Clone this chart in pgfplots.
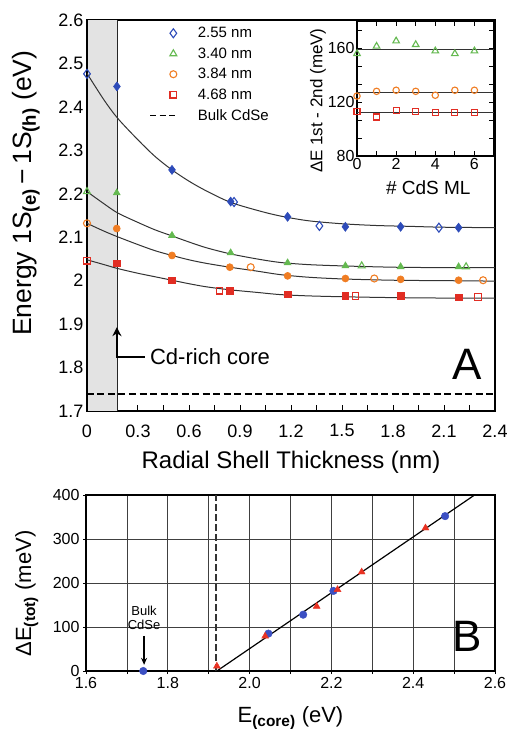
\documentclass[border=0pt]{standalone}
\usepackage{fontspec}
\setmainfont{Liberation Sans}
\usepackage{pgfplots}
\pgfplotsset{compat=1.18}
\usetikzlibrary{arrows.meta}

\definecolor{cblue}{RGB}{45,75,185}
\definecolor{cgreen}{RGB}{100,185,80}
\definecolor{corange}{RGB}{240,125,35}
\definecolor{cred}{RGB}{225,45,35}
\definecolor{bblue}{RGB}{60,80,195}
\definecolor{bred}{RGB}{232,50,35}

\pgfplotsset{
  openmk/.style={only marks, color=#1, mark options={fill=white, line width=1.1pt}},
  fillmk/.style={only marks, color=#1, mark options={line width=0.6pt}},
  fitline/.style={black!80, line width=1pt, smooth, no marks},
  markimg/.style={legend image code/.code={\path[draw=none, fill=none] (-0.82cm,0cm) rectangle (0.06cm,0.01cm); \draw[##1] plot coordinates {(0cm,0cm)};}},
  dashimg/.style={legend image code/.code={\draw[##1] (-0.82cm,0cm) -- (0.06cm,0cm);}},
}

\begin{document}
\begin{tikzpicture}
\path[use as bounding box] (0pt,0pt) rectangle (509pt,729pt);

% ---------- panel A ----------
\begin{axis}[
  at={(87pt,318pt)}, anchor=south west, scale only axis,
  width=408pt, height=391pt,
  xmin=0, xmax=2.4, ymin=1.7, ymax=2.6,
  axis line style={line width=1.2pt},
  tick align=inside, xtick pos=bottom, ytick pos=left,
  major tick length=6pt, minor tick length=6pt,
  every tick/.style={black, line width=1pt},
  xtick={0,0.3,0.6,0.9,1.2,1.5,1.8,2.1,2.4},
  xticklabels={0,0.3,0.6,0.9,1.2,1.5,1.8,2.1,2.4},
  minor xtick={0.15,0.45,0.75,1.05,1.35,1.65,1.95,2.25},
  ytick={1.7,1.8,1.9,2,2.1,2.2,2.3,2.4,2.5,2.6},
  yticklabels={1.7,1.8,1.9,2,2.1,2.2,2.3,2.4,2.5,2.6},
  ticklabel style={font=\fontsize{18}{18}\selectfont},
  xticklabel style={yshift=-10pt},
  xlabel={Radial Shell Thickness (nm)},
  xlabel style={font=\fontsize{24}{24}\selectfont, at={(axis description cs:0.5,-0.13)}, anchor=center},
  ylabel={Energy 1S\textsubscript{\bfseries(e)}\,−\,1S\textsubscript{\bfseries(h)} (eV)},
  ylabel style={font=\fontsize{26.5}{26.5}\selectfont, at={(axis description cs:-0.15,0.557)}, anchor=center},
  legend style={at={(axis description cs:0.1525,0.987)}, anchor=north west, draw=none, fill=none,
    inner sep=0pt, row sep=4.5pt, font=\fontsize{15}{17}\selectfont,
    /tikz/every odd column/.append style={column sep=19pt}},
  legend cell align=left,
]
\addlegendimage{openmk=cblue, mark=diamond, mark size=4.5pt, markimg}
\addlegendentry{2.55 nm}
\addlegendimage{openmk=cgreen, mark=triangle, mark size=4pt, markimg}
\addlegendentry{3.40 nm}
\addlegendimage{openmk=corange, mark=o, mark size=3.5pt, markimg}
\addlegendentry{3.84 nm}
\addlegendimage{openmk=cred, mark=square, mark size=3.3pt, markimg}
\addlegendentry{4.68 nm}
\addlegendimage{black, line width=1.2pt, dash pattern=on 6pt off 3.5pt, dashimg}
\addlegendentry{Bulk CdSe}

% Cd-rich core band
\addplot[forget plot, fill=gray!22, draw=none] coordinates {(0.004,1.7) (0.18,1.7) (0.18,2.6) (0.004,2.6)} -- cycle;
\addplot[forget plot, black!85, line width=1.5pt] coordinates {(0.18,1.7) (0.18,2.6)};

% bulk CdSe level
\addplot[forget plot, black, line width=1.2pt, dash pattern=on 7pt off 3.5pt] coordinates {(0,1.739) (2.4,1.739)};

% fits
\addplot[forget plot, fitline] coordinates {
(0,2.477) (0.1,2.416) (0.18,2.374) (0.3,2.324) (0.4,2.286) (0.5,2.255) (0.6,2.229)
(0.7,2.207) (0.84,2.181) (1.0,2.162) (1.135,2.149) (1.3,2.138) (1.5,2.131)
(1.7,2.127) (1.9,2.125) (2.1,2.123) (2.4,2.122)};
\addplot[forget plot, fitline] coordinates {
(0,2.205) (0.1,2.177) (0.18,2.156) (0.3,2.134) (0.4,2.117) (0.5,2.103) (0.6,2.089)
(0.7,2.076) (0.84,2.062) (1.0,2.050) (1.135,2.042) (1.3,2.037) (1.5,2.034)
(1.8,2.031) (2.1,2.030) (2.4,2.030)};
\addplot[forget plot, fitline] coordinates {
(0,2.132) (0.1,2.114) (0.18,2.101) (0.3,2.083) (0.4,2.069) (0.5,2.058) (0.6,2.048)
(0.7,2.040) (0.84,2.031) (1.0,2.022) (1.135,2.014) (1.3,2.008) (1.5,2.004)
(1.8,2.001) (2.1,2.000) (2.4,1.999)};
\addplot[forget plot, fitline] coordinates {
(0,2.048) (0.1,2.037) (0.18,2.028) (0.3,2.017) (0.4,2.009) (0.5,2.001) (0.6,1.993)
(0.7,1.986) (0.84,1.979) (1.0,1.973) (1.135,1.968) (1.3,1.965) (1.5,1.963)
(1.8,1.961) (2.1,1.960) (2.4,1.960)};

% 2.55 nm
\addplot[forget plot, fillmk=cblue, mark=diamond*, mark size=4.5pt] coordinates {
(0.176,2.447) (0.5,2.255) (0.845,2.182) (1.18,2.147) (1.52,2.124) (1.845,2.124) (2.186,2.122)};
\addplot[forget plot, openmk=cblue, mark=diamond, mark size=4.5pt] coordinates {
(0,2.476) (0.865,2.181) (1.367,2.126) (2.07,2.122)};
% 3.40 nm
\addplot[forget plot, fillmk=cgreen, mark=triangle*, mark size=4pt] coordinates {
(0.175,2.202) (0.5,2.104) (0.845,2.064) (1.18,2.041) (1.52,2.034) (1.845,2.032) (2.186,2.032)};
\addplot[forget plot, openmk=cgreen, mark=triangle, mark size=4pt] coordinates {
(0,2.205) (1.616,2.034) (2.23,2.032)};
% 3.84 nm
\addplot[forget plot, fillmk=corange, mark=*, mark size=3.5pt] coordinates {
(0.175,2.120) (0.5,2.058) (0.84,2.031) (1.18,2.011) (1.52,2.005) (1.845,2.003) (2.186,2.001)};
\addplot[forget plot, openmk=corange, mark=o, mark size=3.5pt] coordinates {
(0,2.132) (0.963,2.031) (1.69,2.005) (2.33,2.001)};
% 4.68 nm
\addplot[forget plot, fillmk=cred, mark=square*, mark size=3.3pt] coordinates {
(0.175,2.040) (0.5,2.001) (0.84,1.977) (1.18,1.969) (1.52,1.965) (1.845,1.965) (2.186,1.962)};
\addplot[forget plot, openmk=cred, mark=square, mark size=3.3pt] coordinates {
(0,2.046) (0.78,1.977) (1.58,1.965) (2.30,1.962)};

% Cd-rich core arrow
\draw[line width=2.4pt, -{Stealth[length=9pt,width=9pt]}] (axis cs:0.34,1.824) -- (axis cs:0.176,1.824) -- (axis cs:0.176,1.893);
\node[anchor=west, font=\fontsize{22}{22}\selectfont, inner sep=0pt] at (axis cs:0.37,1.824) {Cd-rich core};
\node[font=\fontsize{44}{44}\selectfont, inner sep=0pt] at (axis cs:2.235,1.808) {A};
\end{axis}

% ---------- inset ----------
\begin{axis}[
  at={(357pt,573pt)}, anchor=south west, scale only axis,
  width=137pt, height=135pt,
  xmin=0, xmax=7, ymin=80, ymax=180,
  axis background/.style={fill=white},
  axis line style={line width=1.2pt},
  tick align=inside, major tick length=5pt, minor tick length=5pt,
  every tick/.style={black, line width=0.9pt},
  xtick={0,2,4,6}, xticklabels={0,2,4,6}, minor xtick={1,3,5,7},
  ytick={80,120,160}, yticklabels={80,120,160},
  minor ytick={93.33,106.67,133.33,146.67,173.33},
  ticklabel style={font=\fontsize{16}{16}\selectfont},
  yticklabel style={xshift=1pt},
  xticklabel style={yshift=1pt},
  xlabel={\# CdS ML},
  xlabel style={font=\fontsize{19}{19}\selectfont, at={(axis description cs:0.52,-0.235)}, anchor=center},
  ylabel={ΔE 1st - 2nd (meV)},
  ylabel style={font=\fontsize{17}{17}\selectfont, at={(axis description cs:-0.285,0.41)}, anchor=center},
]
\addplot[black!80, line width=0.9pt] coordinates {(0,159) (7,159)};
\addplot[black!80, line width=0.9pt] coordinates {(0,127.4) (7,127.4)};
\addplot[black!80, line width=0.9pt] coordinates {(0,112.3) (7,112.3)};
\addplot[openmk=cgreen, mark=triangle, mark size=3.8pt] coordinates {
(0,155.8) (1,161.3) (2,165.2) (3,162.5) (4,157.8) (5,155.8) (6,157.8)};
\addplot[openmk=corange, mark=o, mark size=3.2pt] coordinates {
(0,124.4) (1,127.9) (2,128.7) (3,127.9) (4,125.0) (5,128.7) (6,128.7)};
\addplot[openmk=cred, mark=square, mark size=3pt] coordinates {
(0,113.1) (1,108.9) (2,113.9) (3,112.7) (4,112.4) (5,111.9) (6,111.9)};
\end{axis}

% ---------- panel B ----------
\begin{axis}[
  at={(86pt,58pt)}, anchor=south west, scale only axis,
  width=409pt, height=176pt,
  xmin=1.6, xmax=2.6, ymin=0, ymax=400,
  axis line style={line width=1.2pt},
  grid=major, grid style={black!75, line width=0.8pt},
  tick align=outside, xtick pos=bottom, ytick pos=left,
  major tick length=3pt,
  every tick/.style={black, line width=0.8pt},
  xtick={1.6,1.7,1.8,1.9,2.0,2.1,2.2,2.3,2.4,2.5,2.6},
  xticklabels={1.6,,1.8,,2.0,,2.2,,2.4,,2.6},
  ytick={0,100,200,300,400}, yticklabels={0,100,200,300,400},
  ticklabel style={font=\fontsize{16}{16}\selectfont},
  xlabel={E\textsubscript{\bfseries(core)} (eV)},
  xlabel style={font=\fontsize{22}{22}\selectfont, at={(axis description cs:0.5,-0.27)}, anchor=center},
  ylabel={ΔE\textsubscript{\bfseries(tot)} (meV)},
  ylabel style={font=\fontsize{22}{22}\selectfont, at={(axis description cs:-0.145,0.44)}, anchor=center},
]
\addplot[black!80, line width=1.5pt, dash pattern=on 7pt off 3pt] coordinates {(1.918,0) (1.918,400)};
\addplot[black, line width=1.2pt] coordinates {(1.92,0) (2.56,406.3)};
\addplot[only marks, bblue, mark=*, mark size=3.8pt] coordinates {
(1.74,0) (2.046,85) (2.131,128) (2.205,182) (2.478,352)};
\addplot[only marks, bred, mark=triangle*, mark size=4pt] coordinates {
(1.92,11) (2.038,79) (2.164,147) (2.215,185) (2.274,225) (2.43,325)};
\draw[line width=1.3pt, -{Stealth[length=7pt,width=6pt]}] (axis cs:1.742,80) -- (axis cs:1.742,14);
\node[align=center, font=\fontsize{13}{14.5}\selectfont, inner sep=0pt] at (axis cs:1.742,121) {Bulk\\CdSe};
\node[font=\fontsize{44}{44}\selectfont, inner sep=0pt] at (axis cs:2.533,79.5) {B};
\end{axis}
\end{tikzpicture}
\end{document}
